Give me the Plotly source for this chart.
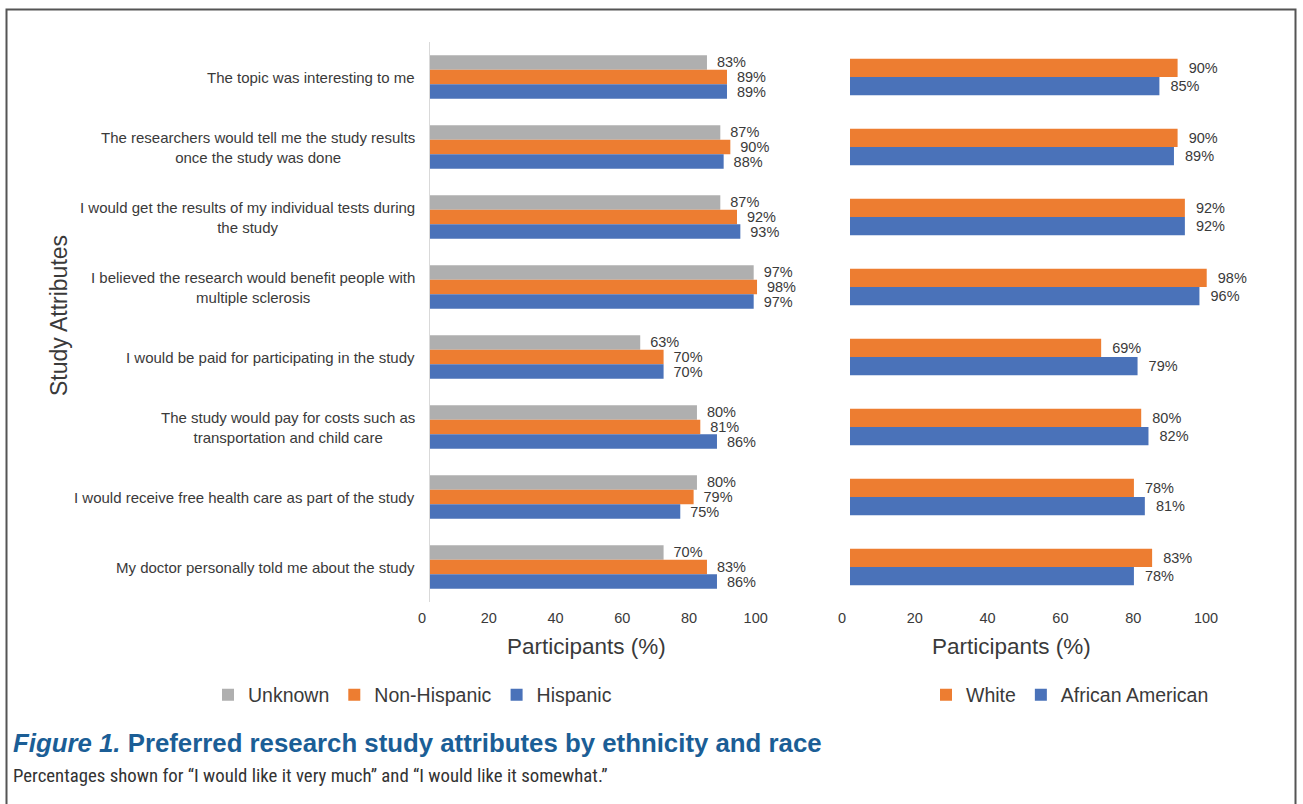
import plotly.graph_objects as go

W, H = 1303, 804

categories = [
    "The topic was interesting to me",
    "The researchers would tell me the study results<br>once the study was done",
    "I would get the results of my individual tests during<br>the study",
    "I believed the research would benefit people with<br>multiple sclerosis",
    "I would be paid for participating in the study",
    "The study would pay for costs such as<br>transportation and child care",
    "I would receive free health care as part of the study",
    "My doctor personally told me about the study",
]

unknown = [83, 87, 87, 97, 63, 80, 80, 70]
non_hispanic = [89, 90, 92, 98, 70, 81, 79, 83]
hispanic = [89, 88, 93, 97, 70, 86, 75, 86]

white = [90, 90, 92, 98, 69, 80, 78, 83]
african_american = [85, 89, 92, 96, 79, 82, 81, 78]

x_ticks = [0, 20, 40, 60, 80, 100]

GRAY = "#AFAFAF"
ORANGE = "#ED7D31"
BLUE = "#4A72B9"
TXT = "#3a3a3a"
FONT = "Liberation Sans, Arial, sans-serif"


def px(x):
    return x / W


def py(y):
    return 1 - y / H


fig = go.Figure()

LW = 0.208  # left bar thickness (category units)
for i, (name, vals, col) in enumerate([("Unknown", unknown, GRAY),
                                       ("Non-Hispanic", non_hispanic, ORANGE),
                                       ("Hispanic", hispanic, BLUE)]):
    fig.add_trace(go.Bar(
        y=categories, x=vals, orientation="h", name=name,
        marker=dict(color=col, line=dict(width=0)),
        width=LW, offset=-1.5 * LW + i * LW,
        text=[f"\u2009 {v}%" for v in vals], textposition="outside",
        textfont=dict(size=14.5, color=TXT, family=FONT),
        constraintext="none", cliponaxis=False,
        xaxis="x", yaxis="y", legend="legend", hoverinfo="skip",
    ))

RW = 0.262  # right bar thickness (category units)
for i, (name, vals, col) in enumerate([("White", white, ORANGE),
                                       ("African American", african_american, BLUE)]):
    fig.add_trace(go.Bar(
        y=categories, x=vals, orientation="h", name=name,
        marker=dict(color=col, line=dict(width=0)),
        width=RW, offset=-RW + i * RW,
        text=[f"  {v}%" for v in vals], textposition="outside",
        textfont=dict(size=14.5, color=TXT, family=FONT),
        constraintext="none", cliponaxis=False,
        xaxis="x2", yaxis="y2", legend="legend2", hoverinfo="skip",
    ))

ydom = [py(602), py(42)]

fig.update_layout(
    width=W, height=H,
    margin=dict(l=0, r=0, t=0, b=0, pad=0, autoexpand=False),
    paper_bgcolor="white", plot_bgcolor="white",
    font=dict(family=FONT, color=TXT),
    barmode="overlay",
    showlegend=True,
    xaxis=dict(domain=[px(430), px(763.7)], range=[0, 100], tickvals=x_ticks,
               showgrid=False, zeroline=False, showline=False, fixedrange=True,
               anchor="y", tickfont=dict(size=14.5, color=TXT),
               ticklabelshift=-8, ticklabelstandoff=5),
    yaxis=dict(domain=ydom, autorange="reversed", showticklabels=False,
               showgrid=False, zeroline=False, showline=True,
               linecolor="#D9D9D9", linewidth=1, anchor="x"),
    xaxis2=dict(domain=[px(850), px(1214)], range=[0, 100], tickvals=x_ticks,
                showgrid=False, zeroline=False, showline=False,
                anchor="y2", tickfont=dict(size=14.5, color=TXT),
                ticklabelshift=-8, ticklabelstandoff=5),
    yaxis2=dict(domain=ydom, autorange="reversed", showticklabels=False,
                showgrid=False, zeroline=False, showline=False, anchor="x2"),
    legend=dict(orientation="h", x=px(208), xanchor="left", y=py(695),
                yanchor="middle", font=dict(size=19.5, color=TXT),
                bgcolor="rgba(0,0,0,0)", itemwidth=30),
    legend2=dict(orientation="h", x=px(926), xanchor="left", y=py(695),
                 yanchor="middle", font=dict(size=19.5, color=TXT),
                 bgcolor="rgba(0,0,0,0)", itemwidth=30),
)

annotations = []
for c in categories:
    annotations.append(dict(
        text=c, xref="paper", x=px(417), xanchor="right", yref="y", y=c,
        yanchor="middle", align="center", showarrow=False,
        font=dict(size=15, color=TXT, family=FONT)))

annotations += [
    dict(text="Participants (%)", xref="paper", yref="paper", x=px(586),
         y=py(646), xanchor="center", yanchor="middle", showarrow=False,
         font=dict(size=22.5, color=TXT, family=FONT)),
    dict(text="Participants (%)", xref="paper", yref="paper", x=px(1011),
         y=py(646), xanchor="center", yanchor="middle", showarrow=False,
         font=dict(size=22.5, color=TXT, family=FONT)),
    dict(text="Study Attributes", xref="paper", yref="paper", x=px(59),
         y=py(316), xanchor="center", yanchor="middle", textangle=-90,
         showarrow=False, font=dict(size=23, color=TXT, family=FONT)),
    dict(text="<b><i>Figure 1.</i> Preferred research study attributes by ethnicity and race</b>",
         xref="paper", yref="paper", x=px(11), y=py(743), xanchor="left",
         yanchor="middle", showarrow=False,
         font=dict(size=25.8, color="#1B5E96",
                   family="Liberation Sans, Arial, sans-serif")),
    dict(text="Percentages shown for \u201cI would like it very much\u201d and \u201cI would like it somewhat.\u201d",
         xref="paper", yref="paper", x=px(11), y=py(776), xanchor="left",
         yanchor="middle", showarrow=False,
         font=dict(size=18.8, color="#333333",
                   family="Liberation Sans Narrow, Roboto Condensed, Arial Narrow, Roboto, sans-serif")),
]
fig.update_layout(annotations=annotations)

fig.add_shape(type="rect", xref="paper", yref="paper",
              x0=px(6.5), x1=px(1295.5), y0=-0.05, y1=py(9.5),
              line=dict(color="#555555", width=2), fillcolor="rgba(0,0,0,0)",
              layer="above")

fig.write_html("out.html")
